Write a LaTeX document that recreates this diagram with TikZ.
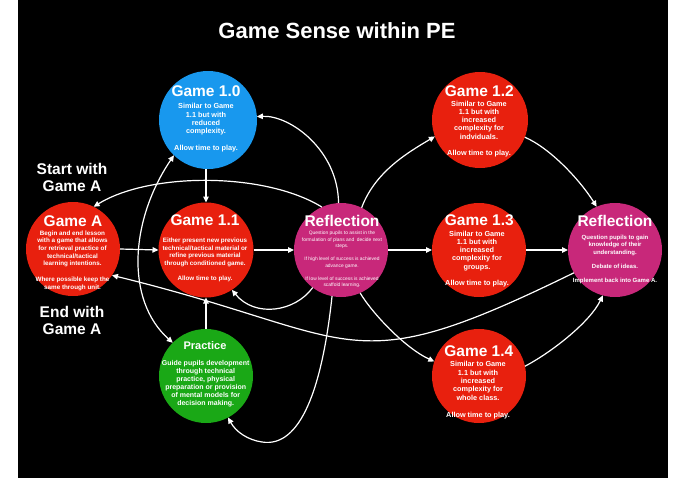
\documentclass[tikz,border=0pt]{standalone}
\usepackage{fontspec}
\setmainfont{Liberation Sans}
\usetikzlibrary{arrows.meta}
\definecolor{gred}{RGB}{232,32,14}
\definecolor{gblue}{RGB}{24,152,238}
\definecolor{gmag}{RGB}{200,40,122}
\definecolor{ggreen}{RGB}{26,168,22}
\begin{document}
\begin{tikzpicture}[x=1pt,y=-1pt,
  circ/.style={circle, minimum size=#1, inner sep=0pt, outer sep=0pt, draw=none},
  head/.style={font=\fontsize{15.5}{18}\selectfont\bfseries, text=white, anchor=base, inner sep=0pt},
  body/.style={align=center, text=white, anchor=north, inner sep=0pt},
  side/.style={align=center, text=white, anchor=north, inner sep=0pt, font=\fontsize{15.5}{17.4}\selectfont\bfseries},
  wire/.style={draw=white, line width=1.2pt, -{Triangle[length=6pt,width=5.5pt]}},
  wiretwo/.style={draw=white, line width=1.2pt, {Triangle[length=6pt,width=5.5pt]}-{Triangle[length=6pt,width=5.5pt]}}
]
\fill[white] (0,0) rectangle (675,491);
\useasboundingbox (0,0) rectangle (675,491);
\fill[black] (18,0) rectangle (668,478);

% title
\node[font=\fontsize{22}{26}\selectfont\bfseries, text=white, anchor=base, inner sep=0pt] (title) at (337,38) {Game Sense within PE};

% circles
\node[circ=94pt, fill=gred] (gA) at (73,249) {};
\node[circ=98pt, fill=gblue] (g10) at (208,120) {};
\node[circ=95pt, fill=gred] (g11) at (206,250) {};
\node[circ=94pt, fill=gmag] (refl) at (341,250) {};
\node[circ=94pt, fill=ggreen] (prac) at (206,376) {};
\node[circ=96pt, fill=gred] (g12) at (480,120) {};
\node[circ=94pt, fill=gred] (g13) at (479,250) {};
\node[circ=94pt, fill=gred] (g14) at (479,376) {};
\node[circ=94pt, fill=gmag] (refr) at (615,250) {};

% connectors
\draw[wire] (g11.north |- g10.south) -- (g11.north);
\draw[wire] (gA.east) -- (g11.west);
\draw[wire] (g11.east) -- (refl.west);
\draw[wire] (refl.east) -- (g13.west);
\draw[wire] (g13.east) -- (refr.west);
\draw[wire] (prac.north) -- (g11.south);
\draw[wire] (refl.93) .. controls (338,150) and (290,115) .. (g10.4);
\draw[wire] (refl.114) .. controls (265,172) and (150,172) .. (gA.64);
\draw[wire] (refr.209) .. controls (343,386) and (364,337) .. (gA.-34);
\draw[wire] (refl.233) .. controls (295,312) and (255,318) .. (g11.-57);
\draw[wire] (refl.259) .. controls (322,390) and (300,448) .. (262,442) .. controls (248,440) and (236,432) .. (prac.-62);
\draw[wiretwo] (g10.226) .. controls (130,220) and (125,300) .. (prac.135);
\draw[wire] (refl.64.5) .. controls (375,172) and (407,153) .. (g12.200);
\draw[wire] (refl.-66) .. controls (372,313) and (405,348) .. (g14.162);
\draw[wire] (g12.-21.6) .. controls (550,148) and (580,180) .. (refr.113.5);
\draw[wire] (g14.12.5) .. controls (552,352) and (590,322) .. (refr.255.7);

% side labels
\node[side] (start) at (72,163) {Start with\\Game A};
\node[side] (end) at (72,306) {End with\\Game A};

% Game A
\node[head] (gAh) at (73,226) {Game A};
\node[body, font=\fontsize{6.3}{7.7}\selectfont\bfseries] (gAb) at (72.5,230.4)
  {Begin and end lesson\\with a game that allows\\for retrieval practice of\\technical/tactical\\learning intentions.\\[7.7pt]Where possible keep the\\same through unit.};

% Game 1.0
\node[head] (g10h) at (206,96.7) {Game 1.0};
\node[body, font=\fontsize{7.3}{8.3}\selectfont\bfseries] (g10b) at (206,103.3)
  {Similar to Game\\1.1 but with\\reduced\\complexity.\\[8.3pt]Allow time to play.};

% Game 1.1
\node[head] (g11h) at (205,225.7) {Game 1.1};
\node[body, font=\fontsize{6.3}{7.7}\selectfont\bfseries] (g11b) at (205,237.7)
  {Either present new previous\\technical/tactical material or\\refine previous material\\through conditioned game.\\[7.7pt]Allow time to play.};

% Reflection middle
\node[head] (reflh) at (342,226) {Reflection};
\node[body, font=\fontsize{4.9}{6.5}\selectfont] (reflb) at (342,230.9)
  {Question pupils to assist in the\\formulation of plans and \ decide next\\steps.\\[6.5pt]If high level of success is achieved\\advance game.\\[6.5pt]If low level of success is achieved\\scaffold learning.};

% Practice
\node[head, font=\fontsize{11}{13}\selectfont\bfseries] (prach) at (205,349) {Practice};
\node[body, font=\fontsize{7}{8}\selectfont\bfseries] (pracb) at (205.7,360.7)
  {Guide pupils development\\through technical\\practice, physical\\preparation or provision\\of mental models for\\decision making.};

% Game 1.2
\node[head] (g12h) at (479.3,96) {Game 1.2};
\node[body, font=\fontsize{7.3}{8.3}\selectfont\bfseries] (g12b) at (479,100.6)
  {Similar to Game\\1.1 but with\\increased\\complexity for\\indviduals.\\[8.3pt]Allow time to play.};

% Game 1.3
\node[head] (g13h) at (479.3,225.7) {Game 1.3};
\node[body, font=\fontsize{7.3}{8.3}\selectfont\bfseries] (g13b) at (477,230.6)
  {Similar to Game\\1.1 but with\\increased\\complexity for\\groups.\\[8.3pt]Allow time to play.};

% Game 1.4
\node[head] (g14h) at (478.8,356) {Game 1.4};
\node[body, font=\fontsize{7.3}{8.4}\selectfont\bfseries] (g14b) at (478,361.3)
  {Similar to Game\\1.1 but with\\increased\\complexity for\\whole class.\\[8.4pt]Allow time to play.};

% Reflection right
\node[head] (refrh) at (615,226) {Reflection};
\node[body, font=\fontsize{6}{7.2}\selectfont\bfseries] (refrb) at (615,235.1)
  {Question pupils to gain\\knowledge of their\\understanding.\\[7.2pt]Debate of ideas.\\[7.2pt]Implement back into Game A.};
\end{tikzpicture}
\end{document}
